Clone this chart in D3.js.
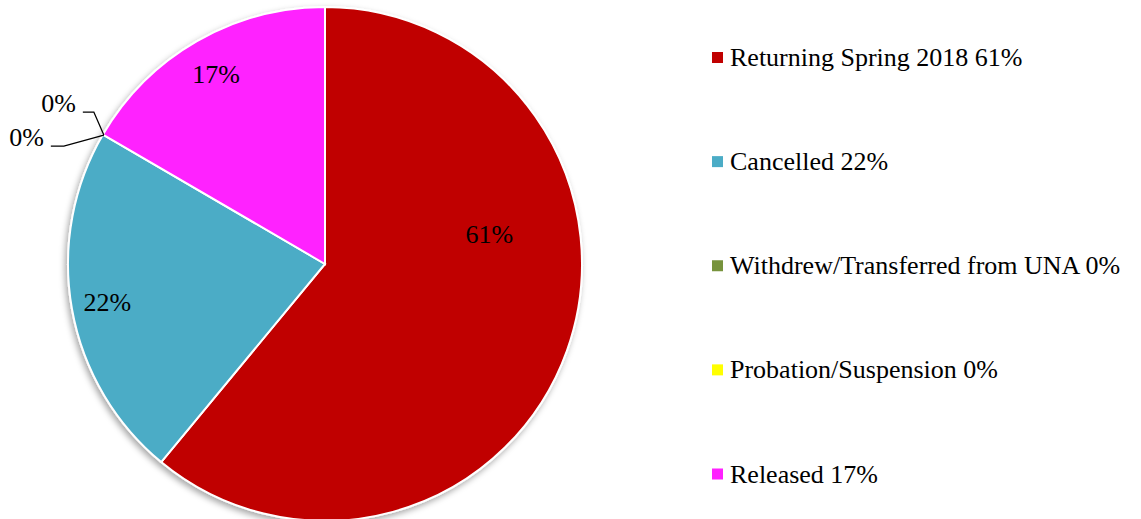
<!DOCTYPE html>
<html>
<head>
<meta charset="utf-8">
<script src="https://cdn.jsdelivr.net/npm/d3@7"></script>
<style>
  body { margin: 0; background: #fff; }
</style>
</head>
<body>
<svg id="chart" width="1141" height="519"></svg>
<script>
/* DATA */
const categories = ["Returning Spring 2018", "Cancelled", "Withdrew/Transferred from UNA", "Probation/Suspension", "Released"];
const values = [61.0, 22.4, 0, 0, 16.6];
const shownPct = ["61%", "22%", "0%", "0%", "17%"];
const colors = ["#C00000", "#4BACC6", "#77933C", "#FFFF00", "#FF20FF"];

// label placement (excel "best fit"): angle shift in degrees, radius fraction
const labelShift = [-30, 0, 0, 0, 0];
const labelRadius = [0.65, 0.86, 0, 0, 0.85];
// leader lines for the two zero slices: [elbow dx, elbow dy, end dx] from slice edge
const leaders = [[-10, -23, -11], [-40, 11, -13]];

const FONT = "'Liberation Serif', 'Times New Roman', serif";
const FS = 26;

const svg = d3.select("#chart").style("font-family", FONT);
const cx = 325, cy = 264, r = 257;

const defs = svg.append("defs");
const shadow = defs.append("filter").attr("id", "shadow")
  .attr("x", "-10%").attr("y", "-10%").attr("width", "120%").attr("height", "120%");
shadow.append("feDropShadow")
  .attr("dx", -2).attr("dy", 3).attr("stdDeviation", 3)
  .attr("flood-color", "#000").attr("flood-opacity", 0.35);

const data = categories.map((c, i) => ({ name: c, value: values[i], i: i }));

const pie = d3.pie().sort(null).value(d => d.value);
const arcs = pie(data);
const arc = d3.arc().innerRadius(0).outerRadius(r);

const g = svg.append("g").attr("transform", `translate(${cx},${cy})`);

g.append("g").attr("filter", "url(#shadow)")
  .selectAll("path")
  .data(arcs.filter(d => d.value > 0))
  .join("path")
  .attr("d", arc)
  .attr("fill", d => colors[d.data.i])
  .attr("stroke", "#fff")
  .attr("stroke-width", 2);

// percentage labels inside slices
arcs.filter(d => d.value > 0).forEach(d => {
  const i = d.data.i;
  const a = (d.startAngle + d.endAngle) / 2 + labelShift[i] * Math.PI / 180;
  const rr = r * labelRadius[i];
  g.append("text")
    .attr("x", rr * Math.sin(a))
    .attr("y", -rr * Math.cos(a))
    .attr("text-anchor", "middle")
    .attr("dominant-baseline", "central")
    .attr("font-family", FONT)
    .attr("font-size", FS)
    .text(shownPct[i]);
});

// zero slices: leader lines + labels
const zeros = arcs.filter(d => d.value === 0);
zeros.forEach((d, k) => {
  const a = d.startAngle;
  const ex = (r - 1) * Math.sin(a), ey = -(r - 1) * Math.cos(a);
  const [ldx, ldy, hdx] = leaders[k];
  const bx = ex + ldx, by = ey + ldy;
  g.append("path")
    .attr("d", d3.line()([[ex, ey], [bx, by], [bx + hdx, by]]))
    .attr("fill", "none")
    .attr("stroke", "#000")
    .attr("stroke-width", 1.3);
  g.append("text")
    .attr("x", bx + hdx - 7)
    .attr("y", by)
    .attr("text-anchor", "end")
    .attr("font-family", FONT)
    .attr("font-size", FS)
    .text(shownPct[d.data.i]);
});

// legend
const legendY = d3.scalePoint().domain(d3.range(categories.length)).range([57.5, 474]);
const legend = svg.append("g");
const rows = legend.selectAll("g")
  .data(data)
  .join("g")
  .attr("transform", d => `translate(712,${legendY(d.i)})`);
rows.append("rect")
  .attr("x", 0).attr("y", -5.5)
  .attr("width", 11).attr("height", 11)
  .attr("fill", d => colors[d.i]);
rows.append("text")
  .attr("x", 18)
  .attr("y", 0)
  .attr("dominant-baseline", "central")
  .attr("font-family", FONT)
  .attr("font-size", FS)
  .text(d => `${d.name} ${shownPct[d.i]}`);
</script>
</body>
</html>
